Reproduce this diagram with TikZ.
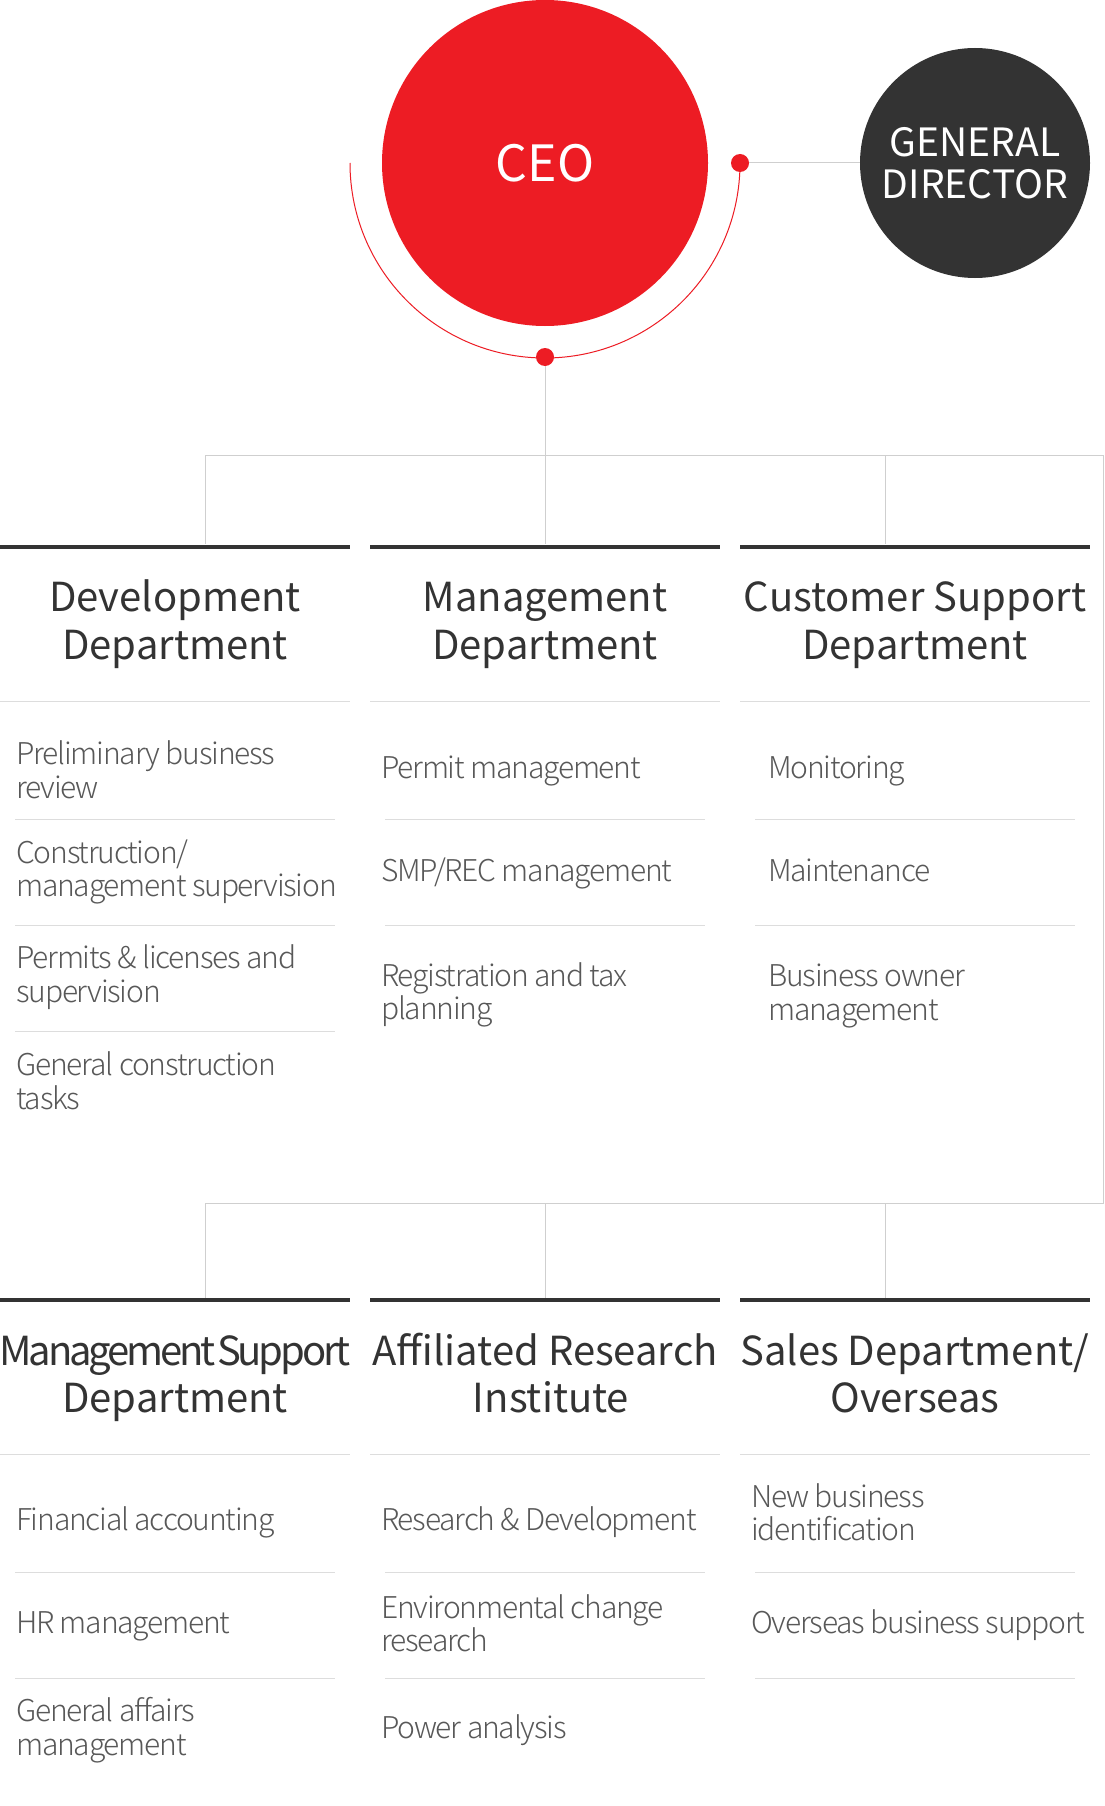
\documentclass[tikz,border=0pt]{standalone}
\usepackage{fontspec}
\setmainfont{Noto Sans CJK KR}
\newfontfamily\lightfont{Noto Sans CJK KR Light}[LetterSpace=-4]
\newfontfamily\tightfont{Noto Sans CJK KR}[LetterSpace=-8, WordSpace=0.3]
\definecolor{ceored}{HTML}{ED1C24}
\definecolor{darkgray}{HTML}{333333}
\definecolor{itemgray}{HTML}{585858}
\definecolor{connline}{HTML}{CFCFCF}
\definecolor{sepline}{HTML}{DDDDDD}
\tikzset{
  ceonode/.style={circle, fill=ceored, text=white, minimum size=326pt, inner sep=0pt,
    font=\fontsize{50}{50}\selectfont},
  gdnode/.style={circle, fill=darkgray, text=white, minimum size=230pt, inner sep=0pt,
    align=center, font=\fontsize{39}{42.3}\selectfont},
  reddot/.style={circle, fill=ceored, minimum size=18pt, inner sep=0pt},
  conn/.style={draw=connline, line width=1pt},
  redarc/.style={draw=ceored, line width=1pt},
  deptbar/.style={rectangle, fill=darkgray, minimum width=350pt, minimum height=4pt, inner sep=0pt},
  depttitle/.style={anchor=base, align=center, inner sep=0pt, text=darkgray,
    font=\fontsize{40}{47.6}\selectfont},
  itemtext/.style={anchor=base west, align=left, inner sep=0pt, text=itemgray,
    font=\lightfont\fontsize{30}{33.5}\selectfont},
  sepl/.style={draw=sepline, line width=1pt},
}
\begin{document}
\begin{tikzpicture}[x=1pt,y=-1pt]
\useasboundingbox (0,0) rectangle (1105,1806);
\fill[white] (0,0) rectangle (1105,1806);

% top: CEO and general director
\draw[redarc] (350,163) arc[start angle=180, end angle=0, radius=195];
\node[ceonode] (ceo) at (545,163) {CEO};
\node[gdnode] (gd) at (975,163) {GENERAL\\DIRECTOR};
\node[reddot] (dotR) at (740,163) {};
\node[reddot] (dotB) at (545,357) {};
\draw[conn] (dotR) -- (gd);

% connector tree
\coordinate (j1) at (545,455);
\coordinate (l1) at (205,455);
\coordinate (r1) at (1103.5,455);
\coordinate (r2) at (1103.5,1203);
\coordinate (l2) at (205,1203);
\coordinate (m1) at (545,455);
\coordinate (k1) at (885,455);
\coordinate (m2) at (545,1203);
\coordinate (k2) at (885,1203);
\draw[conn] (dotB) -- (j1);
\draw[conn] (l1) -- (r1) -- (r2) -- (l2);

% department bars
\node[deptbar] (b1) at (175,546.5) {};
\node[deptbar] (b2) at (545,546.5) {};
\node[deptbar] (b3) at (915,546.5) {};
\node[deptbar] (b4) at (175,1300) {};
\node[deptbar] (b5) at (545,1300) {};
\node[deptbar] (b6) at (915,1300) {};
\draw[conn] (l1) -- (l1 |- b1.north);
\draw[conn] (m1) -- (m1 |- b2.north);
\draw[conn] (k1) -- (k1 |- b3.north);
\draw[conn] (l2) -- (l2 |- b4.north);
\draw[conn] (m2) -- (m2 |- b5.north);
\draw[conn] (k2) -- (k2 |- b6.north);

% titles (anchor = baseline of last line)
\node[depttitle] (t1) at (175,659.3) {Development\\Department};
\node[depttitle] (t2) at (545,659.3) {Management\\Department};
\node[depttitle] (t3) at (915,659.3) {Customer Support\\Department};
\node[depttitle] (t4) at (175,1412.7) {{\tightfont Management Support}\\Department};
\node[depttitle] (t5) at (545,1412.7) {Affiliated Research\\\hspace*{12pt}Institute};
\node[depttitle] (t6) at (915,1412.7) {Sales Department/\\Overseas};

% header separators
\foreach \cx in {0,370,740}{
  \draw[sepl] (\cx,701.7) -- ++(350,0);
  \draw[sepl] (\cx,1454) -- ++(350,0);
}
% item separators top
\draw[sepl] (15,819) -- (335,819);
\draw[sepl] (15,925) -- (335,925);
\draw[sepl] (15,1031) -- (335,1031);
\draw[sepl] (385,819) -- (705,819);
\draw[sepl] (385,925) -- (705,925);
\draw[sepl] (755,819) -- (1075,819);
\draw[sepl] (755,925) -- (1075,925);
% item separators bottom
\draw[sepl] (15,1572) -- (335,1572);
\draw[sepl] (15,1678) -- (335,1678);
\draw[sepl] (385,1572) -- (705,1572);
\draw[sepl] (385,1678) -- (705,1678);
\draw[sepl] (755,1572) -- (1075,1572);
\draw[sepl] (755,1678) -- (1075,1678);

% items top (anchor = baseline of last line)
\node[itemtext] (i11) at (16,798.3) {Preliminary business\\review};
\node[itemtext] (i12) at (16,896.7) {Construction/\\management supervision};
\node[itemtext] (i13) at (16,1002) {Permits \& licenses and\\supervision};
\node[itemtext] (i14) at (16,1109.3) {General construction\\tasks};
\node[itemtext] (i21) at (381,778.3) {Permit management};
\node[itemtext] (i22) at (381,881) {SMP/REC management};
\node[itemtext] (i23) at (381,1019.5) {Registration and tax\\planning};
\node[itemtext] (i31) at (768,778) {Monitoring};
\node[itemtext] (i32) at (768,881) {Maintenance};
\node[itemtext] (i33) at (768,1020) {Business owner\\management};
% items bottom
\node[itemtext] (i41) at (16,1530.7) {Financial accounting};
\node[itemtext] (i42) at (16,1633.3) {HR management};
\node[itemtext] (i43) at (16,1755) {General affairs\\management};
\node[itemtext] (i51) at (381,1530.7) {Research \& Development};
\node[itemtext] (i52) at (381,1651.7) {Environmental change\\research};
\node[itemtext] (i53) at (381,1738.3) {Power analysis};
\node[itemtext] (i61) at (751,1540.7) {New business\\identification};
\node[itemtext] (i62) at (751,1633.3) {Overseas business support};
\end{tikzpicture}
\end{document}
